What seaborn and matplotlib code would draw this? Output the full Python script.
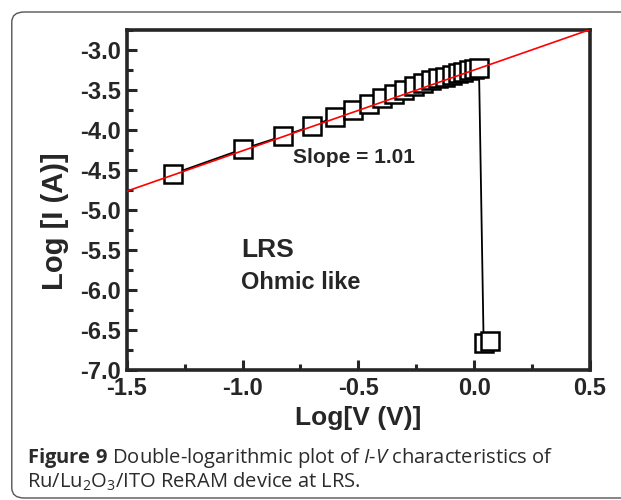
import numpy as np
import pandas as pd
import seaborn as sns
import matplotlib.pyplot as plt
from matplotlib.ticker import MultipleLocator, FormatStrFormatter
from matplotlib.patches import FancyBboxPatch


# data
log_v = [-1.301, -1.000, -0.824, -0.699, -0.602, -0.523, -0.456, -0.398,
         -0.347, -0.301, -0.260, -0.222, -0.187, -0.155, -0.125, -0.097,
         -0.071, -0.046, -0.022, 0.000, 0.021, 0.041, 0.068]
log_i = [-4.55, -4.24, -4.075, -3.95, -3.84, -3.75, -3.67, -3.605,
         -3.545, -3.495, -3.455, -3.415, -3.38, -3.355, -3.335, -3.31,
         -3.29, -3.27, -3.255, -3.24, -3.23, -6.66, -6.64]

fit_slope = 1.01
fit_intercept = -3.25

x_ticks = [-1.5, -1.0, -0.5, 0.0, 0.5]
y_ticks = [-7.0, -6.5, -6.0, -5.5, -5.0, -4.5, -4.0, -3.5, -3.0]

caption_1 = r"$\mathbf{Figure\ 9}$ Double-logarithmic plot of $\mathit{I}$-$\mathit{V}$ characteristics of"
caption_2 = r"Ru/Lu$_2$O$_3$/ITO ReRAM device at LRS."

df = pd.DataFrame({"logV": log_v, "logI": log_i})

sns.set_theme(style="ticks")
plt.rcParams['font.family'] = ['Liberation Sans', 'DejaVu Sans']
plt.rcParams['axes.unicode_minus'] = False
plt.rcParams['mathtext.fontset'] = 'custom'
plt.rcParams['mathtext.rm'] = 'Open Sans'
plt.rcParams['mathtext.it'] = 'Open Sans:italic'
plt.rcParams['mathtext.bf'] = 'Open Sans:bold'

fig = plt.figure(figsize=(6.21, 5.0), dpi=100)
ax = fig.add_axes([0.204, 0.26, 0.746, 0.68])

# rounded frame around figure + caption
frame = FancyBboxPatch((0.019, 0.004), 1.2, 0.972, boxstyle="round,pad=0,rounding_size=0.02",
                       transform=fig.transFigure, facecolor='none', edgecolor='#555555',
                       linewidth=1.0, clip_on=False)
fig.patches.append(frame)

sns.lineplot(data=df, x="logV", y="logI", sort=False, estimator=None, ax=ax,
             color='black', linewidth=1.3, marker='s', markersize=13,
             markerfacecolor='white', markeredgecolor='black', markeredgewidth=1.8)

ax.axline((0, fit_intercept), slope=fit_slope, color='red', linewidth=1.2, zorder=4)

ax.set_xlim(-1.5, 0.5)
ax.set_ylim(-7.0, -2.75)
ax.set_xticks(x_ticks)
ax.set_yticks(y_ticks)
ax.xaxis.set_minor_locator(MultipleLocator(0.25))
ax.yaxis.set_minor_locator(MultipleLocator(0.25))
ax.xaxis.set_major_formatter(FormatStrFormatter('%.1f'))
ax.yaxis.set_major_formatter(FormatStrFormatter('%.1f'))
ax.tick_params(which='major', direction='in', length=7, width=2.2, pad=4,
               labelsize=17, top=False, right=False)
ax.tick_params(axis='x', which='major', pad=5)
ax.tick_params(which='minor', direction='in', length=4, width=2.2, top=False, right=False)
for lab in ax.get_xticklabels() + ax.get_yticklabels():
    lab.set_fontweight('bold')
for sp in ax.spines.values():
    sp.set_linewidth(2.6)
    sp.set_visible(True)

ax.set_xlabel("Log[V (V)]", fontsize=19, fontweight='bold')
ax.set_ylabel("Log [I (A)]", fontsize=21, fontweight='bold')
ax.xaxis.set_label_coords(0.5, -0.105)
ax.yaxis.set_label_coords(-0.125, 0.437)

ax.text(-0.781, -4.34, "Slope = 1.01", fontsize=15, fontweight='bold', ha='left', va='center')
ax.text(-1.006, -5.5, "LRS", fontsize=19, fontweight='bold', ha='left', va='center')
ax.text(-1.006, -5.91, "Ohmic like", fontsize=17, fontweight='bold', ha='left', va='center')

fig.text(0.044, 0.084, caption_1, fontsize=14.5, family='Open Sans', color='#2b2b2b',
         ha='left', va='center')
fig.text(0.044, 0.036, caption_2, fontsize=14.5, family='Open Sans', color='#2b2b2b',
         ha='left', va='center')

fig.savefig("out.png", dpi=100)
